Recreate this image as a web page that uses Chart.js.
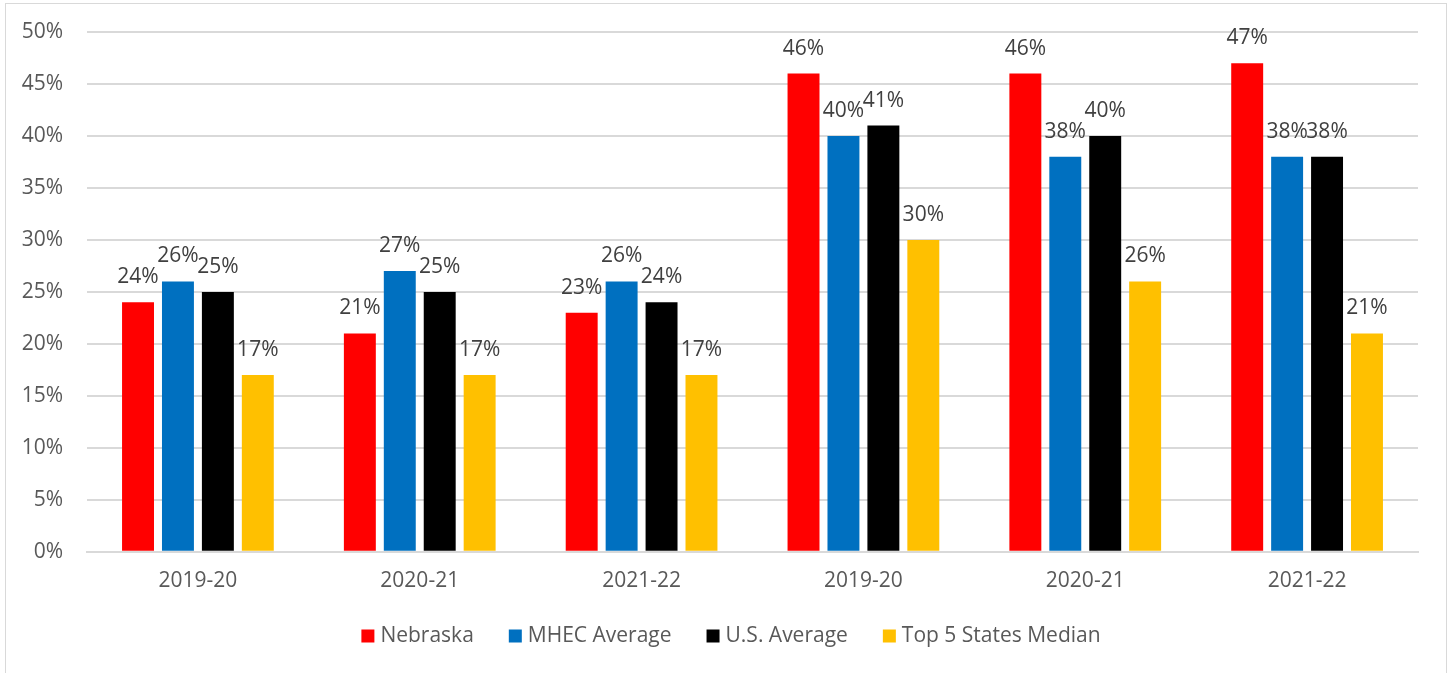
<!DOCTYPE html>
<html><head><meta charset="utf-8">
<script src="https://cdn.jsdelivr.net/npm/chart.js@4"></script>
<style>
html,body{margin:0;padding:0;background:#fff;overflow:hidden}
#frame{position:absolute;left:5px;top:3px;width:1442px;height:700px;border:1px solid #d9d9d9;box-sizing:border-box}
#wrap{position:absolute;left:0;top:0;width:1452px;height:673px}
</style></head><body>
<div id="frame"></div>
<div id="wrap"><canvas id="c" width="1452" height="673"></canvas></div>
<script>
const categories = ["2019-20","2020-21","2021-22","2019-20","2020-21","2021-22"];
const nebraska = [24,21,23,46,46,47];
const mhecAverage = [26,27,26,40,38,38];
const usAverage = [25,25,24,41,40,38];
const top5Median = [17,17,17,30,26,21];
const yTicks = [0,5,10,15,20,25,30,35,40,45,50];

const textColor = '#595959';
const labelPlugin = {
  id:'valueLabels',
  afterDatasetsDraw(chart){
    const ctx = chart.ctx;
    ctx.save();
    ctx.font = '21px "Open Sans"';
    ctx.fillStyle = '#404040';
    ctx.textAlign = 'center';
    ctx.textBaseline = 'middle';
    chart.data.datasets.forEach((ds,i)=>{
      const meta = chart.getDatasetMeta(i);
      meta.data.forEach((bar,j)=>{
        ctx.fillText(ds.data[j]+'%', bar.x, bar.y-25);
      });
    });
    ctx.restore();
  }
};

const legendPlugin = {
  id:'bottomLegend',
  afterDraw(chart){
    const ctx = chart.ctx;
    ctx.save();
    ctx.font = '21px "Open Sans"';
    ctx.textBaseline = 'middle';
    ctx.textAlign = 'left';
    const box = 13, gapText = 6, gapItem = 35, cy = 636;
    const items = chart.data.datasets.map(ds=>({label:ds.label,color:ds.backgroundColor,w:ctx.measureText(ds.label).width}));
    let total = items.reduce((s,it)=>s+box+gapText+it.w,0) + gapItem*(items.length-1);
    let x = chart.width/2 + 5 - total/2;
    items.forEach(it=>{
      ctx.fillStyle = it.color;
      ctx.fillRect(x, cy-box/2, box, box);
      ctx.fillStyle = textColor;
      ctx.fillText(it.label, x+box+gapText, cy);
      x += box+gapText+it.w+gapItem;
    });
    ctx.restore();
  }
};

new Chart(document.getElementById('c'),{
  type:'bar',
  data:{
    labels:categories,
    datasets:[
      {label:'Nebraska',data:nebraska,backgroundColor:'#FF0000'},
      {label:'MHEC Average',data:mhecAverage,backgroundColor:'#0070C0'},
      {label:'U.S. Average',data:usAverage,backgroundColor:'#000000'},
      {label:'Top 5 States Median',data:top5Median,backgroundColor:'#FFC000'}
    ]
  },
  options:{
    responsive:false,
    animation:false,
    datasets:{bar:{categoryPercentage:0.72,barPercentage:0.8}},
    layout:{padding:{left:0,right:34,top:0,bottom:62}},
    plugins:{
      legend:{display:false},
      tooltip:{enabled:false}
    },
    scales:{
      x:{
        grid:{display:false,drawTicks:false},
        border:{display:true,color:'#d9d9d9',width:2},
        ticks:{color:textColor,padding:17,font:{family:'"Open Sans"',size:21}}
      },
      y:{
        min:0,max:50,
        afterFit(s){s.width=87;s.paddingTop=32;},
        afterBuildTicks(s){s.ticks=yTicks.map(v=>({value:v}));},
        grid:{color:'#d9d9d9',lineWidth:2,drawTicks:false},
        border:{display:false},
        ticks:{color:textColor,padding:24,font:{family:'"Open Sans"',size:21},
          callback:v=>v+'%'}
      }
    }
  },
  plugins:[labelPlugin, legendPlugin]
});
</script>
</body></html>
